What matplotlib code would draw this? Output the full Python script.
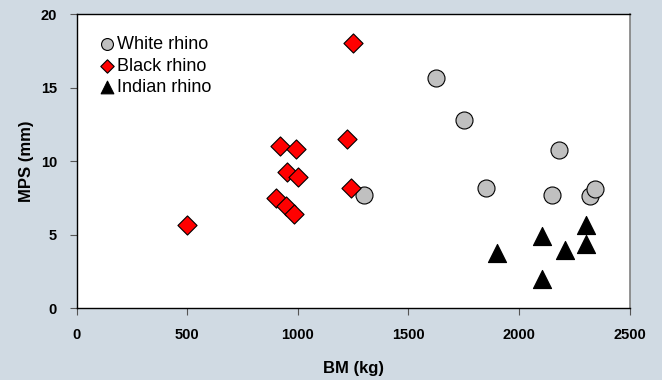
import matplotlib
matplotlib.use("Agg")
import matplotlib.pyplot as plt

# body mass (kg) and MPS (mm)
white_bm = [1300, 1623, 1752, 1850, 2180, 2150, 2320, 2342]
white_mps = [7.7, 15.65, 12.8, 8.15, 10.8, 7.7, 7.65, 8.1]

black_bm = [1252, 918, 990, 1222, 951, 999, 1240, 900, 945, 984, 498]
black_mps = [18.05, 11.05, 10.85, 11.5, 9.25, 8.9, 8.2, 7.5, 6.95, 6.4, 5.7]

indian_bm = [1901, 2102, 2206, 2304, 2304, 2102]
indian_mps = [3.75, 4.9, 3.95, 5.7, 4.4, 2.0]

x_ticks = [0, 500, 1000, 1500, 2000, 2500]
y_ticks = [0, 5, 10, 15, 20]

plt.rcParams['font.family'] = ['Liberation Sans', 'DejaVu Sans']

bg = '#d0dae3'
fig = plt.figure(figsize=(6.62, 3.8), dpi=100, facecolor=bg)
ax = fig.add_axes([0.1156, 0.1887, 0.8354, 0.7737])
ax.set_facecolor('white')

ax.scatter(white_bm, white_mps, s=150, marker='o', c='#c0c0c0',
           edgecolors='black', linewidths=0.8, zorder=3, label='White rhino')
ax.scatter(black_bm, black_mps, s=95, marker='D', c='#ff0000',
           edgecolors='black', linewidths=0.8, zorder=3, label='Black rhino')
ax.scatter(indian_bm, indian_mps, s=170, marker='^', c='black',
           edgecolors='black', linewidths=0.8, zorder=3, label='Indian rhino')

ax.set_xlim(0, 2500)
ax.set_ylim(0, 20)
ax.set_xticks(x_ticks)
ax.set_yticks(y_ticks)
ax.tick_params(direction='out', length=5, width=0.8, color='#555555',
               labelsize=10.5, pad=9)
for lab in ax.get_xticklabels() + ax.get_yticklabels():
    lab.set_fontweight('bold')

for side in ['left', 'bottom', 'top']:
    ax.spines[side].set_color('black')
    ax.spines[side].set_linewidth(1.0)
ax.spines['right'].set_color('#808080')
ax.spines['right'].set_linewidth(1.2)

ax.set_xlabel('BM (kg)', fontsize=12, fontweight='bold', labelpad=14)
ax.set_ylabel('MPS (mm)', fontsize=12, fontweight='bold', labelpad=5)

leg = ax.legend(loc='upper left', bbox_to_anchor=(0.025, 0.95), frameon=False,
                fontsize=13, markerscale=0.7, handletextpad=0.1,
                labelspacing=0.25, borderaxespad=0, handlelength=1.0)

fig.savefig('out.png', dpi=100, facecolor=bg)
